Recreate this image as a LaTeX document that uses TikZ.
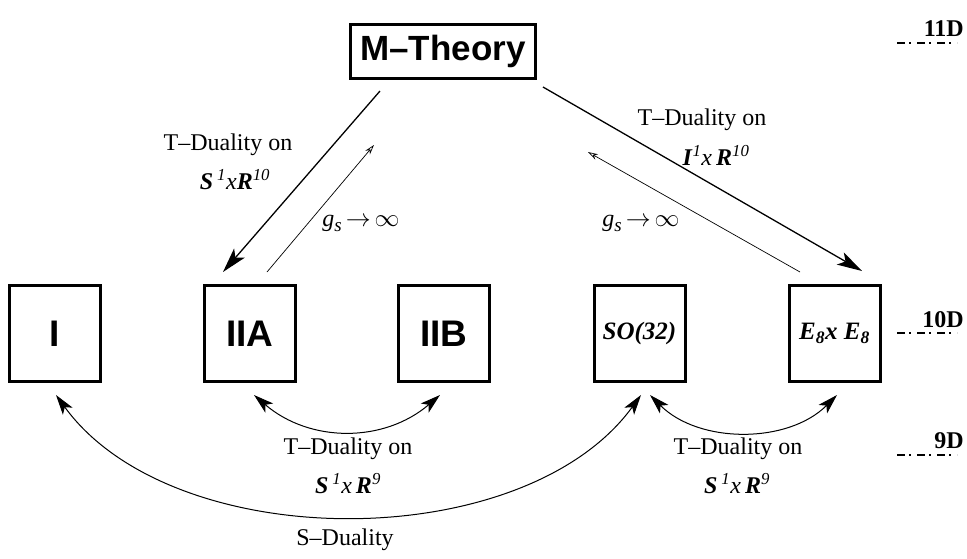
\documentclass[tikz,border=0pt]{standalone}
\usepackage{fontspec}
\setmainfont{Liberation Serif}
\setsansfont{Liberation Sans}
\usepackage{tikz}
\usetikzlibrary{arrows.meta,positioning}

\newcommand{\bolditalic}[1]{\textbf{\textit{#1}}}
\newcommand{\supit}[1]{\textsuperscript{\textit{#1}}}
\newcommand{\gslimit}{\textit{g}\raisebox{-0.45ex}{\fontsize{19}{19}\selectfont\textit{s}}\,$\rightarrow$\,$\infty$}

\begin{document}
\begin{tikzpicture}[x=1pt,y=-1pt,
    theory/.style={draw,line width=3pt,minimum width=91pt,minimum height=96pt,inner sep=0pt,
        font=\fontsize{37}{40}\selectfont\sffamily\bfseries},
    heterotic/.style={theory,font=\fontsize{25}{28}\selectfont\bfseries\itshape},
    dualtext/.style={inner sep=0pt,font=\fontsize{24}{28}\selectfont},
    leveltext/.style={anchor=east,inner sep=0pt,font=\fontsize{24}{26}\selectfont\bfseries},
    levelline/.style={line width=2pt,dash pattern=on 8pt off 4pt on 2pt off 6pt},
    thickarrow/.style={line width=1.3pt,-{Stealth[length=25pt,width=14pt,inset=6pt]}},
    thinarrow/.style={line width=0.7pt,-{Stealth[length=10pt,width=6pt,open]}},
    twoway/.style={line width=1pt,{Stealth[length=20pt,width=12pt,inset=5pt]}-{Stealth[length=20pt,width=12pt,inset=5pt]}}]
    \useasboundingbox (0,0) rectangle (967,558);

    % Theories
    \node[theory,minimum width=185pt,minimum height=54pt,font=\fontsize{35}{38}\selectfont\sffamily\bfseries] (mth) at (443,51.5) {M--Theory};
    \node[theory] (tI) at (55,333.5) {I};
    \node[theory] (tIIA) at (250,333.5) {IIA};
    \node[theory] (tIIB) at (444,333.5) {IIB};
    \node[heterotic] (tSO) at (639.5,333.5) {SO(32)};
    \node[heterotic] (tEE) at (834.5,333.5) {E\textsubscript{8}x E\textsubscript{8}};

    % Dimension markers
    \node[leveltext] (d11) at (964,29) {11D};
    \node[leveltext] (d10) at (964,320) {10D};
    \node[leveltext] (d9) at (964,441) {9D};
    \coordinate (d11a) at (897,43);  \coordinate (d11b) at (957,43);
    \coordinate (d10a) at (897,333); \coordinate (d10b) at (957,333);
    \coordinate (d9a) at (897,455);  \coordinate (d9b) at (957,455);
    \draw[levelline] (d11a) -- (d11b);
    \draw[levelline] (d10a) -- (d10b);
    \draw[levelline] (d9a) -- (d9b);

    % M-Theory to IIA
    \coordinate (mL) at (380,91);  \coordinate (aL) at (223,272);
    \coordinate (sL) at (267,272); \coordinate (uL) at (374,145);
    \draw[thickarrow] (mL) -- (aL);
    \draw[thinarrow] (sL) -- (uL);
    \node[dualtext] (tdL) at (228,145) {T--Duality on};
    \node[dualtext] (tdLs) at (235,180) {\bolditalic{S}\,\supit{1}\textit{x}\bolditalic{R}\supit{10}};
    \node[dualtext] (gsL) at (361,223) {\gslimit};

    % M-Theory to E8xE8
    \coordinate (mR) at (543,87);  \coordinate (aR) at (862,271);
    \coordinate (sR) at (800,272); \coordinate (uR) at (588,152);
    \draw[thickarrow] (mR) -- (aR);
    \draw[thinarrow] (sR) -- (uR);
    \node[dualtext] (tdR) at (702,120) {T--Duality on};
    \node[dualtext] (tdRs) at (716,155) {\bolditalic{I}\supit{1}\textit{x}\,\bolditalic{R}\supit{10}};
    \node[dualtext] (gsR) at (641,223) {\gslimit};

    % T-Duality IIA <-> IIB
    \coordinate (pA) at (254,395); \coordinate (pB) at (440,395);
    \draw[twoway] (pA) .. controls (310,443) and (384,443) .. (pB);
    \node[dualtext] (tdAB) at (348,449) {T--Duality on};
    \node[dualtext] (tdABs) at (348,484) {\bolditalic{S}\,\supit{1}\textit{x}\,\bolditalic{R}\supit{9}};

    % T-Duality SO(32) <-> E8xE8
    \coordinate (pS) at (650,395); \coordinate (pE) at (837,395);
    \draw[twoway] (pS) .. controls (699,444) and (788,444) .. (pE);
    \node[dualtext] (tdSE) at (738,449) {T--Duality on};
    \node[dualtext] (tdSEs) at (737,484) {\bolditalic{S}\,\supit{1}\textit{x}\,\bolditalic{R}\supit{9}};

    % S-Duality I <-> SO(32)
    \coordinate (pI) at (56,395); \coordinate (pO) at (641,395);
    \draw[twoway] (pI) .. controls (173,556) and (524,556) .. (pO);
    \node[dualtext] (sd) at (345,540) {S--Duality};
\end{tikzpicture}
\end{document}
